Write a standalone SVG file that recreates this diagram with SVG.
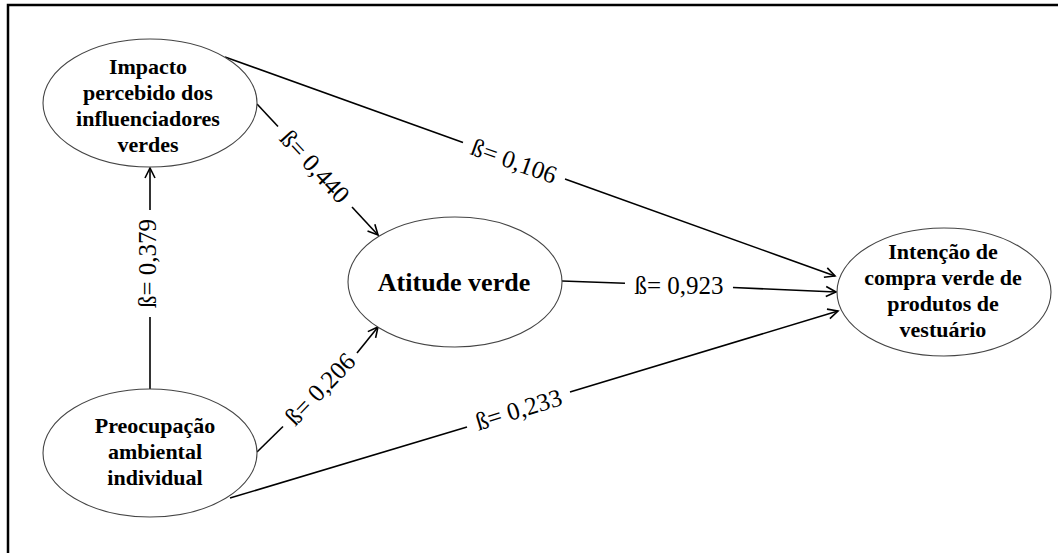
<svg xmlns="http://www.w3.org/2000/svg" width="1058" height="553" viewBox="0 0 1058 553">
  <defs>
    <marker id="arrow" viewBox="-12 -7 14 14" markerWidth="14" markerHeight="14" refX="0" refY="0" orient="auto" markerUnits="userSpaceOnUse">
      <path d="M-10,-5 L0,0 L-10,5" fill="none" stroke="#000" stroke-width="1.6" stroke-linejoin="miter"/>
    </marker>
    <style>
      .node ellipse { fill: #fff; stroke: #444; stroke-width: 1.1; }
      .node text { font-family: "Liberation Serif", "Times New Roman", serif; font-weight: bold; font-size: 22px; fill: #000; text-anchor: middle; }
      .node text.big { font-size: 26px; }
      .edge line { stroke: #000; stroke-width: 1.6; fill: none; }
      .edge .tip { marker-end: url(#arrow); }
      .edge text { font-family: "Liberation Serif", "Times New Roman", serif; font-size: 25px; fill: #000; text-anchor: middle; }
      .frame { stroke: #000; stroke-width: 2.5; fill: none; }
    </style>
  </defs>

  <rect width="1058" height="553" fill="#fff"/>

  <!-- outer frame: top and left border only -->
  <path class="frame" d="M8,553 L8,5 L1058,5"/>

  <!-- connectors: each is split around its coefficient label -->
  <g id="connectors">
    <g class="edge" id="e-impacto-intencao">
      <line x1="225" y1="57" x2="463" y2="142.5"/>
      <line class="tip" x1="565" y1="179" x2="835" y2="276"/>
      <text transform="translate(514,161) rotate(19.75)" y="8.5">ß= 0,106</text>
    </g>
    <g class="edge" id="e-impacto-atitude">
      <line x1="257" y1="104" x2="278" y2="126.5"/>
      <line class="tip" x1="352" y1="207" x2="378" y2="235"/>
      <text transform="translate(315,166.5) rotate(47.3)" y="8.5">ß= 0,440</text>
    </g>
    <g class="edge" id="e-preocupacao-atitude">
      <line x1="257" y1="452" x2="283" y2="426.5"/>
      <line class="tip" x1="357" y1="353" x2="378" y2="327"/>
      <text transform="translate(320,389) rotate(-46.2)" y="8.5">ß= 0,206</text>
    </g>
    <g class="edge" id="e-atitude-intencao">
      <line x1="562" y1="281" x2="625" y2="283.3"/>
      <line class="tip" x1="733" y1="287.5" x2="836" y2="292"/>
      <text x="679" y="294">ß= 0,923</text>
    </g>
    <g class="edge" id="e-preocupacao-intencao">
      <line x1="230" y1="498" x2="467" y2="427"/>
      <line class="tip" x1="570" y1="392" x2="838" y2="311"/>
      <text transform="translate(518.5,409.5) rotate(-17.1)" y="8.5">ß= 0,233</text>
    </g>
    <g class="edge" id="e-preocupacao-impacto">
      <line x1="150" y1="389" x2="150" y2="317"/>
      <line class="tip" x1="150" y1="210" x2="150" y2="168"/>
      <text transform="translate(147,263.5) rotate(-90)" y="8.5">ß= 0,379</text>
    </g>
  </g>

  <!-- constructs -->
  <g class="node" id="impacto">
    <ellipse cx="150" cy="103" rx="107" ry="64"/>
    <text x="148" y="74">Impacto</text>
    <text x="148" y="100">percebido dos</text>
    <text x="148" y="126">influenciadores</text>
    <text x="148" y="152">verdes</text>
  </g>

  <g class="node" id="preocupacao">
    <ellipse cx="150" cy="453" rx="107" ry="64"/>
    <text x="155" y="433">Preocupação</text>
    <text x="155" y="459">ambiental</text>
    <text x="155" y="485">individual</text>
  </g>

  <g class="node" id="atitude">
    <ellipse cx="455" cy="282" rx="107" ry="65"/>
    <text class="big" x="454" y="291">Atitude verde</text>
  </g>

  <g class="node" id="intencao">
    <ellipse cx="944" cy="292" rx="107" ry="64"/>
    <text x="943" y="259">Intenção de</text>
    <text x="943" y="285">compra verde de</text>
    <text x="943" y="311">produtos de</text>
    <text x="943" y="337">vestuário</text>
  </g>
</svg>
